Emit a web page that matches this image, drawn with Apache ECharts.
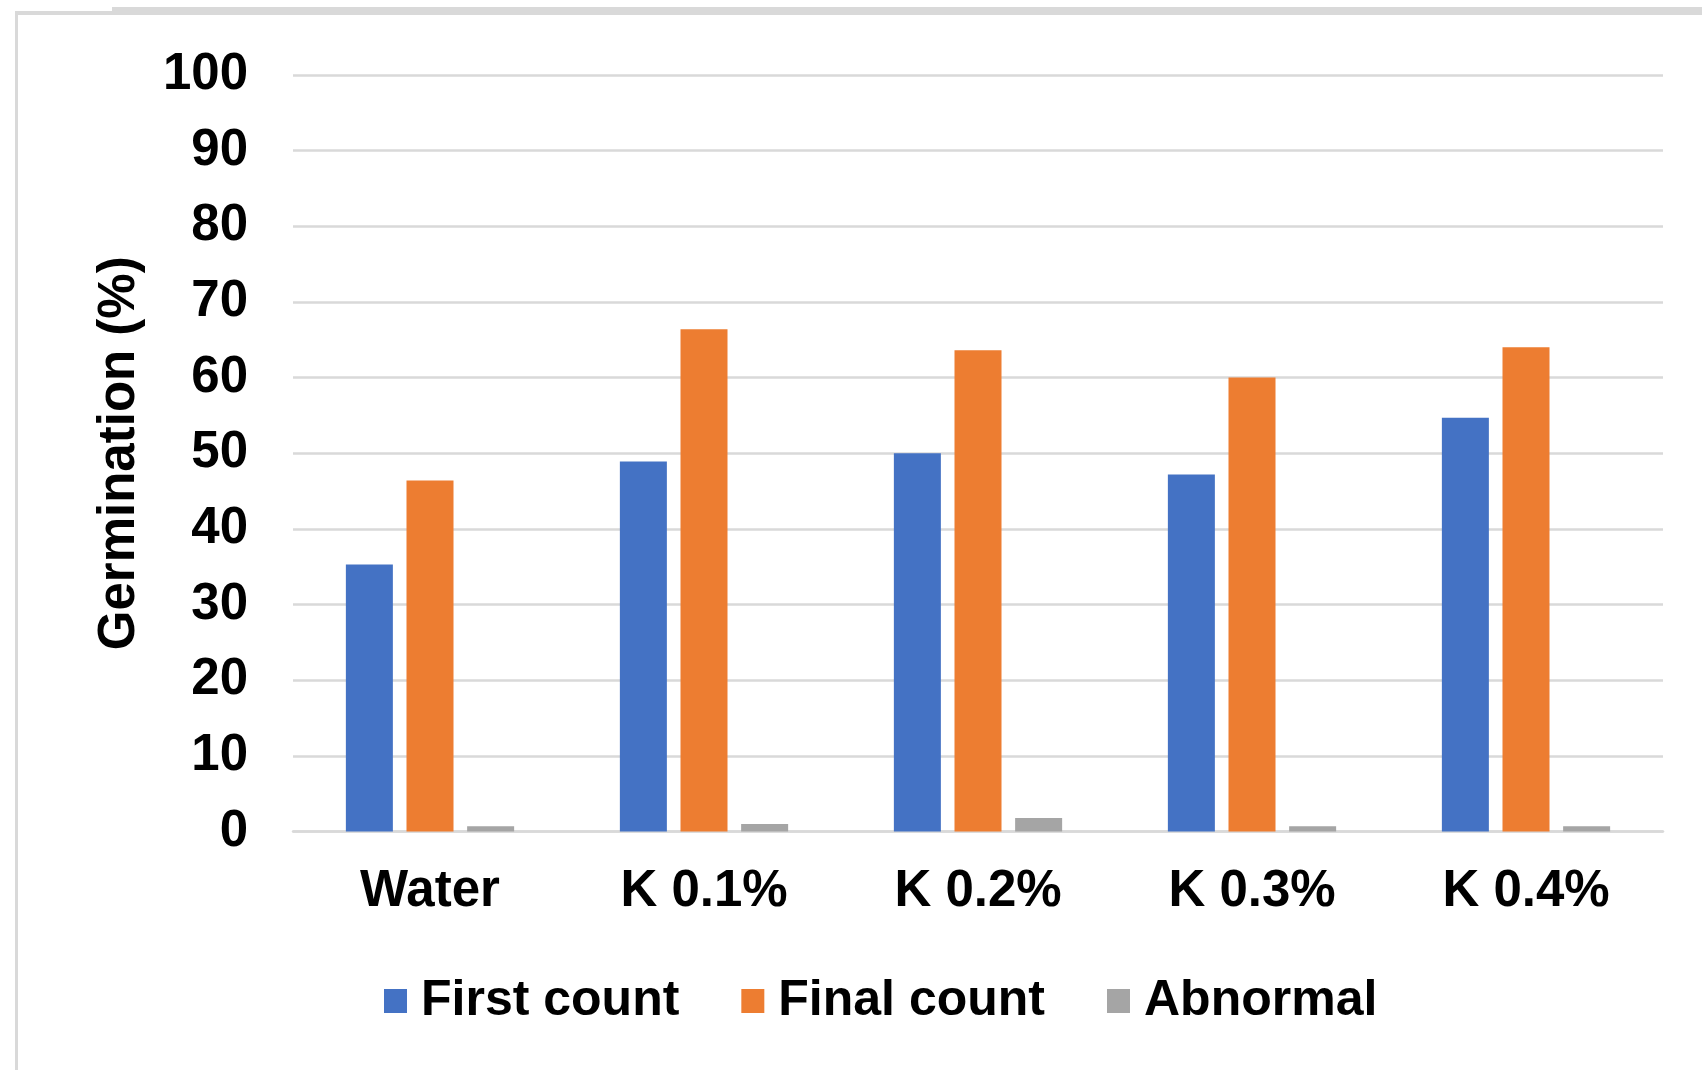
<!DOCTYPE html>
<html>
<head>
<meta charset="utf-8">
<script src="https://cdn.jsdelivr.net/npm/echarts@6/dist/echarts.min.js"></script>
<style>
  html, body { margin: 0; padding: 0; background: #ffffff; }
  #chart { width: 1702px; height: 1070px; }
</style>
</head>
<body>
<div id="chart"></div>
<script>
// Germination of seeds under water and K treatments
const categories = ['Water', 'K 0.1%', 'K 0.2%', 'K 0.3%', 'K 0.4%'];
const firstCount = [35.3, 48.9, 50.0, 47.2, 54.7];
const finalCount = [46.4, 66.4, 63.6, 60.0, 64.0];
const abnormal = [0.7, 1.0, 1.8, 0.7, 0.7];
const seriesNames = ['First count', 'Final count', 'Abnormal'];
const yTicks = { min: 0, max: 100, interval: 10 };

const font = '"Liberation Sans", Arial, sans-serif';
const gridGray = '#d9d9d9';

const chart = echarts.init(document.getElementById('chart'), null, { renderer: 'canvas' });

function barSeries(name, data, color) {
  return {
    name: name,
    type: 'bar',
    data: data,
    barWidth: 47,
    barGap: '29%',
    itemStyle: { color: color },
    emphasis: { disabled: true }
  };
}

chart.setOption({
  animation: false,
  backgroundColor: '#ffffff',
  textStyle: { fontFamily: font },
  graphic: [
    // frame edges of the chart area
    { type: 'rect', shape: { x: 15, y: 11, width: 3, height: 1070 }, style: { fill: gridGray }, silent: true },
    { type: 'rect', shape: { x: 15, y: 11, width: 1702, height: 4 }, style: { fill: gridGray }, silent: true },
    { type: 'rect', shape: { x: 112, y: 7, width: 1600, height: 6 }, style: { fill: gridGray }, silent: true }
  ],
  grid: { left: 293, right: 39, top: 75, bottom: 238.5, containLabel: false },
  legend: {
    data: seriesNames,
    left: 379,
    top: 971,
    itemWidth: 23,
    itemHeight: 24,
    itemGap: 62,
    icon: 'rect',
    textStyle: { fontFamily: font, fontSize: 50, fontWeight: 'bold', color: '#000', padding: [0, 0, 0, 9] }
  },
  xAxis: {
    type: 'category',
    data: categories,
    axisLine: { show: true, lineStyle: { color: gridGray, width: 2.5 } },
    axisTick: { show: false },
    axisLabel: { fontFamily: font, fontSize: 51, fontWeight: 'bold', color: '#000', margin: 35 }
  },
  yAxis: {
    type: 'value',
    min: yTicks.min,
    max: yTicks.max,
    interval: yTicks.interval,
    name: 'Germination (%)',
    nameLocation: 'middle',
    nameGap: 148,
    nameRotate: 90,
    nameTextStyle: { fontFamily: font, fontSize: 51, fontWeight: 'bold', color: '#000' },
    axisLine: { show: false },
    axisTick: { show: false },
    axisLabel: { fontFamily: font, fontSize: 51, fontWeight: 'bold', color: '#000', margin: 45 },
    splitLine: { show: true, lineStyle: { color: gridGray, width: 2.5 } }
  },
  series: [
    barSeries(seriesNames[0], firstCount, '#4472C4'),
    barSeries(seriesNames[1], finalCount, '#ED7D31'),
    barSeries(seriesNames[2], abnormal, '#A5A5A5')
  ]
});
</script>
</body>
</html>
